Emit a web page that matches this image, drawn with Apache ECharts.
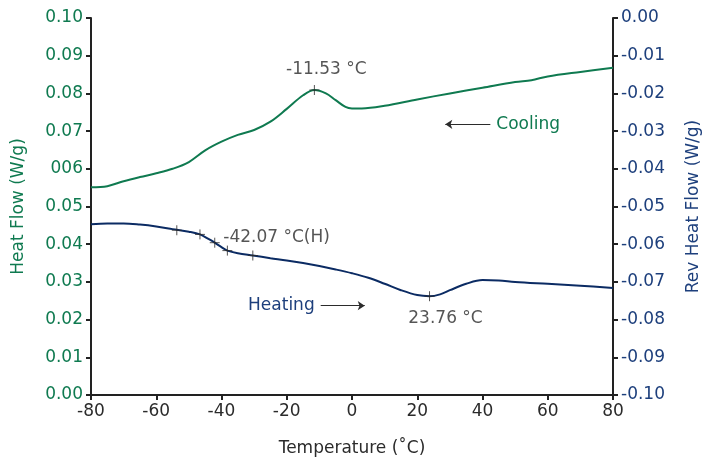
<!DOCTYPE html>
<html>
<head>
<meta charset="utf-8">
<script src="https://cdn.jsdelivr.net/npm/echarts@6/dist/echarts.min.js"></script>
<style>
  html, body { margin: 0; padding: 0; background: #fff; overflow: hidden; }
  #chart { width: 100vw; height: 100vh; }
</style>
</head>
<body>
<div id="chart"></div>
<script>
// Cooling scan: total heat flow (left axis, W/g)
const coolingTemp = [-80, -75, -70, -65, -60, -55, -50, -45, -40, -35, -30, -25, -20, -15, -11.53, -8, -5, -2, 0, 3, 10, 20, 30, 40, 50, 55, 60, 70, 80];
const coolingFlow = [0.0551, 0.0554, 0.0567, 0.0578, 0.0588, 0.0600, 0.0618, 0.0649, 0.0672, 0.0690, 0.0703, 0.0725, 0.0759, 0.0795, 0.0809, 0.0800, 0.0782, 0.0764, 0.0760, 0.0760, 0.0767, 0.0784, 0.0800, 0.0815, 0.0830, 0.0835, 0.0845, 0.0857, 0.0868];

// Heating scan: reversing heat flow (right axis, W/g)
const heatingTemp = [-80, -75, -70, -65, -60, -55, -50, -46.6, -44, -42.07, -40, -38.2, -35, -30.4, -25, -20, -15, -10, -5, 0, 5, 10, 15, 20, 23.76, 27, 30, 35, 40, 45, 50, 60, 70, 80];
const heatingFlow = [-0.0547, -0.0545, -0.0545, -0.0548, -0.0553, -0.0560, -0.0567, -0.0574, -0.0586, -0.0596, -0.0608, -0.0617, -0.0624, -0.0630, -0.0637, -0.0643, -0.0650, -0.0658, -0.0667, -0.0677, -0.0689, -0.0705, -0.0722, -0.0735, -0.0738, -0.0733, -0.0722, -0.0705, -0.0695, -0.0696, -0.0700, -0.0705, -0.0710, -0.0716];

// Glass transition analysis points on the heating curve
const transitionTemp = [-53.7, -46.6, -42.07, -38.2, -30.4];
const transitionFlow = [-0.0563, -0.0574, -0.0596, -0.0617, -0.0630];

// Peak / minimum annotations
const coolingPeak = { temp: -11.53, flow: 0.0809, text: '-11.53 °C' };
const heatingMin = { temp: 23.76, flow: -0.0738, text: '23.76 °C' };
const glassLabel = '-42.07 °C(H)';

// Tick labels
const xTicks = [-80, -60, -40, -20, 0, 20, 40, 60, 80];
const leftTicks = ['0.00', '0.01', '0.02', '0.03', '0.04', '0.05', '006', '0.07', '0.08', '0.09', '0.10'];
const rightTicks = ['-0.10', '-0.09', '-0.08', '-0.07', '-0.06', '-0.05', '-0.04', '-0.03', '-0.02', '-0.01', '0.00'];

// Curve direction markers (arrows) and their captions
const coolingArrow = { from: [42.4, 0.0718], to: [28.6, 0.0718], text: 'Cooling' };
const heatingArrow = { from: [-9.6, -0.0763], to: [3.9, -0.0763], text: 'Heating' };

const GREEN = '#0f7a50';
const NAVY = '#0b2b63';
const NAVY_TEXT = '#1d3f7c';
const INK = '#2b2b2b';
const FONT = 'DejaVu Sans';
const PLUS = 'path://M5,0 L5,10 M0,5 L10,5';

const zip = (a, b) => a.map((v, i) => [v, b[i]]);

const chart = echarts.init(document.getElementById('chart'), null, { renderer: 'canvas' });

// Layout is designed on a 710 x 462 canvas and scaled to the actual container.
function build() {
  const sx = chart.getWidth() / 710;
  const sy = chart.getHeight() / 462;
  const FS = Math.round(17 * sx * 10) / 10;

  const axisLine = { show: true, onZero: false, lineStyle: { color: '#222', width: 2 } };
  const axisTick = { show: true, inside: false, length: 5, lineStyle: { color: '#222', width: 2 } };

  chart.setOption({
    animation: false,
    backgroundColor: '#fff',
    textStyle: { fontFamily: FONT },
    grid: { left: 91 * sx, top: 18 * sy, width: 532 * sx, height: 380 * sy, containLabel: false },
    xAxis: {
      type: 'value', min: -80, max: 80, interval: 20,
      name: 'Temperature (˚C)', nameLocation: 'middle', nameGap: 45 * sy,
      nameTextStyle: { color: INK, fontSize: FS, fontFamily: FONT },
      axisLine: axisLine, axisTick: axisTick, splitLine: { show: false },
      axisLabel: { color: INK, fontSize: FS, margin: 8, fontFamily: FONT,
        formatter: v => { const i = xTicks.indexOf(Math.round(v)); return i >= 0 ? String(xTicks[i]) : ''; } }
    },
    yAxis: [
      {
        type: 'value', position: 'left', min: 0, max: 0.1, interval: 0.01,
        name: 'Heat Flow (W/g)', nameLocation: 'middle', nameGap: 64 * sx,
        nameTextStyle: { color: GREEN, fontSize: FS, fontFamily: FONT },
        axisLine: axisLine, axisTick: axisTick, splitLine: { show: false },
        axisLabel: { color: GREEN, fontSize: FS, margin: 8, fontFamily: FONT,
          formatter: v => leftTicks[Math.round(v * 100)] || '' }
      },
      {
        type: 'value', position: 'right', min: -0.1, max: 0, interval: 0.01,
        name: 'Rev Heat Flow (W/g)', nameLocation: 'middle', nameGap: 72 * sx,
        nameTextStyle: { color: NAVY_TEXT, fontSize: FS, fontFamily: FONT },
        axisLine: axisLine, axisTick: axisTick, splitLine: { show: false },
        axisLabel: { color: NAVY_TEXT, fontSize: FS, margin: 8, fontFamily: FONT,
          formatter: v => rightTicks[Math.round(v * 100) + 10] || '' }
      }
    ],
    series: [
      {
        name: 'Cooling', type: 'line', yAxisIndex: 0, smooth: 0.35, showSymbol: false,
        data: zip(coolingTemp, coolingFlow),
        lineStyle: { color: GREEN, width: 2 }, itemStyle: { color: GREEN },
        markLine: {
          silent: true, symbol: ['arrow', 'none'], symbolSize: [7, 7],
          lineStyle: { color: INK, width: 1.2, type: 'solid' },
          label: { show: true, position: 'end', formatter: coolingArrow.text, color: GREEN, fontSize: FS, fontFamily: FONT, distance: 6 },
          data: [[{ coord: coolingArrow.to }, { coord: coolingArrow.from }]]
        }
      },
      {
        name: 'Heating', type: 'line', yAxisIndex: 1, smooth: 0.35, showSymbol: false,
        data: zip(heatingTemp, heatingFlow),
        lineStyle: { color: NAVY, width: 2 }, itemStyle: { color: NAVY },
        markLine: {
          silent: true, symbol: ['none', 'arrow'], symbolSize: [7, 7],
          lineStyle: { color: INK, width: 1.2, type: 'solid' },
          label: { show: true, position: 'start', formatter: heatingArrow.text, color: NAVY_TEXT, fontSize: FS, fontFamily: FONT, distance: 6 },
          data: [[{ coord: heatingArrow.from }, { coord: heatingArrow.to }]]
        }
      },
      {
        name: 'Transition points', type: 'scatter', yAxisIndex: 1,
        symbol: PLUS, symbolSize: 10, z: 5,
        itemStyle: { color: 'none', borderColor: INK, borderWidth: 1 },
        data: zip(transitionTemp, transitionFlow).map((p, i) => ({
          value: p,
          label: i === 2 ? { show: true, position: 'right', formatter: glassLabel, color: INK, fontSize: FS, fontFamily: FONT, offset: [-4, -5] } : { show: false }
        }))
      },
      {
        name: 'Heating minimum', type: 'scatter', yAxisIndex: 1,
        symbol: PLUS, symbolSize: 10, z: 5,
        itemStyle: { color: 'none', borderColor: INK, borderWidth: 1 },
        label: { show: true, position: 'bottom', formatter: heatingMin.text, color: INK, fontSize: FS, fontFamily: FONT, distance: 6, offset: [16, 0] },
        data: [[heatingMin.temp, heatingMin.flow]]
      },
      {
        name: 'Cooling peak', type: 'scatter', yAxisIndex: 0,
        symbol: PLUS, symbolSize: 10, z: 5,
        itemStyle: { color: 'none', borderColor: INK, borderWidth: 1 },
        label: { show: true, position: 'top', formatter: coolingPeak.text, color: INK, fontSize: FS, fontFamily: FONT, distance: 4, offset: [12, 0] },
        data: [[coolingPeak.temp, coolingPeak.flow]]
      }
    ]
  }, true);
}

build();
window.addEventListener('resize', () => { chart.resize(); build(); });
</script>
</body>
</html>
